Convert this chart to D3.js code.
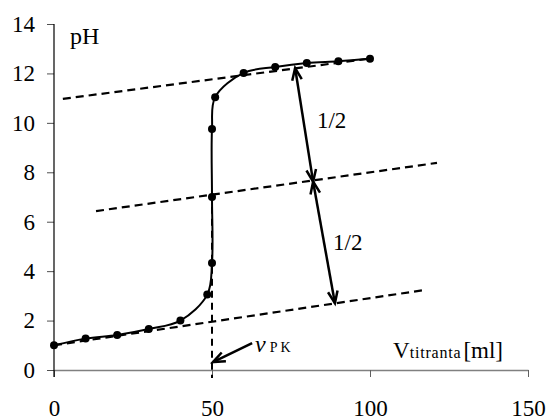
<!DOCTYPE html>
<html>
<head>
<meta charset="utf-8">
<script src="https://cdn.jsdelivr.net/npm/d3@7"></script>
<style>
  body { margin: 0; background: #fff; }
  svg text { font-family: "Liberation Serif", "Times New Roman", Tinos, "DejaVu Serif", serif; }
</style>
</head>
<body>
<div class="container"></div>
<script>
// titration curve: volume of titrant (ml) vs pH
var volume = [0, 10, 20, 30, 40, 48.5, 50, 50, 50, 51, 60, 70, 80, 90, 100];
var pH = [1.0, 1.27, 1.42, 1.66, 2.0, 3.05, 4.33, 7.0, 9.75, 11.04, 12.02, 12.26, 12.42, 12.49, 12.59];

// dashed guide lines, [start, end] in ml and pH
var lowV = [0, 117.4];
var lowPH = [1.0, 3.24];
var midV = [13.3, 121.2];
var midPH = [6.43, 8.38];
var highV = [2.8, 100];
var highPH = [10.97, 12.6];

// the two "1/2" arrows share the middle point
var arrowV = [76.3, 82.0, 88.9];
var arrowPH = [12.22, 7.62, 2.7];
var halfLabelV = [83.2, 88.3];
var halfLabelPH = [9.8, 4.86];

// equivalence point
var equivV = 50;
var equivPH = 7.09;
var pkArrowV = [62.7, 50.3];
var pkArrowPH = [1.09, 0.32];

var xTicks = [0, 50, 100, 150];
var yTicks = [0, 2, 4, 6, 8, 10, 12, 14];

var serif = '"Liberation Serif", "Times New Roman", Tinos, "DejaVu Serif", serif';
var w = 549;
var h = 420;

var svg = d3.select('.container')
  .append('svg')
  .attr('width', w)
  .attr('height', h)
  .attr('font-family', serif);

var xScale = d3.scaleLinear()
  .domain([0, 150])
  .range([54, 528]);

var yScale = d3.scaleLinear()
  .domain([0, 14])
  .range([370, 24]);

/* Axes */
var xAxis = d3.axisBottom(xScale)
  .tickValues(xTicks)
  .tickSize(7)
  .tickSizeOuter(0)
  .tickPadding(23);

var yAxis = d3.axisLeft(yScale)
  .tickValues(yTicks)
  .tickSize(7)
  .tickSizeOuter(0)
  .tickPadding(12);

var gx = svg.append('g')
  .attr('transform', 'translate(0,' + yScale(0) + ')')
  .call(xAxis)
  .attr('font-family', serif)
  .attr('font-size', 23);
gx.select('.domain').attr('stroke', '#808080').attr('stroke-width', 1.5);
gx.selectAll('.tick line').attr('stroke', '#606060');
gx.selectAll('text').attr('fill', '#000');

var gy = svg.append('g')
  .attr('transform', 'translate(' + xScale(0) + ',0)')
  .call(yAxis)
  .attr('font-family', serif)
  .attr('font-size', 23);
gy.select('.domain').remove();
gy.selectAll('.tick line').attr('stroke', '#505050');
gy.selectAll('text').attr('fill', '#000');
// y axis line runs a tick length below the x axis
gy.append('line')
  .attr('x1', 0).attr('x2', 0)
  .attr('y1', yScale(14))
  .attr('y2', yScale(0) + 7)
  .attr('stroke', '#000')
  .attr('stroke-width', 1.2);

/* Dashed guide lines */
var guides = [[lowV, lowPH], [midV, midPH], [highV, highPH]];
svg.selectAll('.guide')
  .data(guides)
  .enter()
  .append('line')
  .attr('class', 'guide')
  .attr('x1', function(d) { return xScale(d[0][0]); })
  .attr('y1', function(d) { return yScale(d[1][0]); })
  .attr('x2', function(d) { return xScale(d[0][1]); })
  .attr('y2', function(d) { return yScale(d[1][1]); })
  .attr('stroke', '#000')
  .attr('stroke-width', 2.2)
  .attr('stroke-dasharray', '8,5');

// vertical dashed line down from the equivalence point
svg.append('line')
  .attr('x1', xScale(equivV)).attr('x2', xScale(equivV))
  .attr('y1', yScale(equivPH))
  .attr('y2', yScale(0) + 8)
  .attr('stroke', '#000')
  .attr('stroke-width', 2)
  .attr('stroke-dasharray', '7,5');

/* Titration curve */
var points = volume.map(function(v, i) { return [v, pH[i]]; });

var line = d3.line()
  .x(function(d) { return xScale(d[0]); })
  .y(function(d) { return yScale(d[1]); })
  .curve(d3.curveCatmullRom.alpha(0.5));

svg.append('path')
  .datum(points)
  .attr('d', line)
  .attr('fill', 'none')
  .attr('stroke', '#000')
  .attr('stroke-width', 2);

svg.selectAll('.dot')
  .data(points)
  .enter()
  .append('circle')
  .attr('class', 'dot')
  .attr('cx', function(d) { return xScale(d[0]); })
  .attr('cy', function(d) { return yScale(d[1]); })
  .attr('r', 4)
  .attr('fill', '#000');

/* Arrows */
function arrowHead(x1, y1, x2, y2) {
  // open V head at (x2, y2)
  var a = Math.atan2(y2 - y1, x2 - x1);
  var len = 13, spread = 0.38;
  return 'M' + (x2 - len * Math.cos(a - spread)) + ',' + (y2 - len * Math.sin(a - spread)) +
    'L' + x2 + ',' + y2 +
    'L' + (x2 - len * Math.cos(a + spread)) + ',' + (y2 - len * Math.sin(a + spread));
}

function drawArrow(v1, p1, v2, p2, both) {
  var x1 = xScale(v1), y1 = yScale(p1), x2 = xScale(v2), y2 = yScale(p2);
  svg.append('line')
    .attr('x1', x1).attr('y1', y1)
    .attr('x2', x2).attr('y2', y2)
    .attr('stroke', '#000')
    .attr('stroke-width', 2.5);
  svg.append('path')
    .attr('d', arrowHead(x1, y1, x2, y2))
    .attr('fill', 'none')
    .attr('stroke', '#000')
    .attr('stroke-width', 2.5);
  if (both) {
    svg.append('path')
      .attr('d', arrowHead(x2, y2, x1, y1))
      .attr('fill', 'none')
      .attr('stroke', '#000')
      .attr('stroke-width', 2.5);
  }
}

drawArrow(arrowV[0], arrowPH[0], arrowV[1], arrowPH[1], true);
drawArrow(arrowV[1], arrowPH[1], arrowV[2], arrowPH[2], true);
drawArrow(pkArrowV[0], pkArrowPH[0], pkArrowV[1], pkArrowPH[1], false);

svg.selectAll('.half')
  .data(halfLabelV)
  .enter()
  .append('text')
  .attr('class', 'half')
  .attr('x', function(d) { return xScale(d); })
  .attr('y', function(d, i) { return yScale(halfLabelPH[i]); })
  .attr('font-size', '23px')
  .text('1/2');

/* Labels */
svg.append('text')
  .attr('x', xScale(0) + 16)
  .attr('y', yScale(14) + 20)
  .attr('font-size', '24px')
  .text('pH');

var vpk = svg.append('text')
  .attr('x', xScale(63.6))
  .attr('y', yScale(0.73));
vpk.append('tspan')
  .attr('font-style', 'italic')
  .attr('font-size', '24px')
  .text('v');
vpk.append('tspan')
  .attr('dx', 4)
  .attr('font-size', '14px')
  .attr('letter-spacing', '3px')
  .text('PK');

var xt = svg.append('text')
  .attr('x', xScale(107.3))
  .attr('y', yScale(0.49));
xt.append('tspan').attr('font-size', '23px').text('V');
xt.append('tspan').attr('font-size', '16px').attr('letter-spacing', '0.8px').text('titranta');
xt.append('tspan').attr('font-size', '23px').attr('dx', 2).text('[ml]');
</script>
</body>
</html>
